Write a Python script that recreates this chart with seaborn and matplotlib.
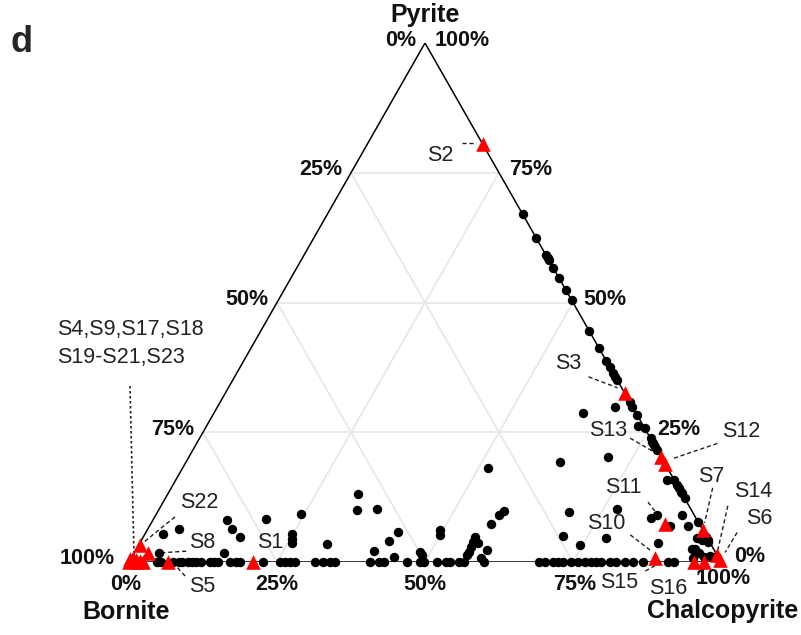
import matplotlib
matplotlib.use("Agg")
import matplotlib.pyplot as plt
import numpy as np
import pandas as pd
import seaborn as sns

# ------------------------------------------------------------------ data (%)
# Black dots. Bornite = 100 - chalcopyrite - pyrite
baseline_cpy = [4.8, 5.4, 7.4, 8.5, 9.0, 9.9, 10.7, 11.3, 12.2, 13.6, 14.4, 15.0,
                17.0, 18.1, 18.7, 22.6, 25.5, 26.3, 27.2, 28.0, 31.4, 32.8, 34.0,
                34.8, 40.7, 42.2, 43.0, 47.0, 49.2, 49.8, 52.1, 53.5, 54.3, 55.7,
                56.6, 60.0, 69.3, 70.2, 71.6, 72.4, 73.3, 74.7, 75.8, 77.0, 78.1,
                78.9, 79.8, 81.2, 82.3, 83.8, 85.2, 86.9, 91.1, 92.0]

interior_cpy = [3.0, 5.3, 12.5, 14.2, 16.4, 19.1, 24.4, 24.8, 25.4, 25.8, 15.2,
                31.7, 32.2, 33.5, 36.8, 40.4, 42.0, 42.6, 44.2, 48.2, 48.9, 49.4,
                49.9, 56.0, 56.1, 56.3, 56.4, 57.1, 56.5, 59.2, 59.0, 51.5, 58.4,
                58.0, 57.5, 63.1, 70.7, 69.5, 70.8, 74.6, 78.3, 77.2, 87.5, 84.0,
                84.6, 87.9, 88.8, 90.9, 93.6, 94.7, 95.7, 95.9, 94.3, 95.4, 96.6,
                97.6, 98.5, 93.8, 95.0, 62.3, 67.1, 4.2, 82.9, 72.9]
interior_py = [5.4, 6.4, 8.1, 6.4, 4.8, 8.2, 9.2, 5.4, 4.4, 3.6, 1.8,
               3.4, 13.1, 10.0, 10.3, 2.1, 4.0, 5.8, 1.0, 2.0, 1.3, 6.2,
               5.2, 4.9, 3.9, 2.9, 2.0, 3.6, 1.3, 2.4, 0.8, 18.2, 9.9,
               9.1, 7.3, 19.3, 20.3, 9.6, 5.0, 3.3, 4.7, 10.3, 3.7, 8.4,
               9.1, 6.9, 9.1, 6.9, 4.6, 4.2, 4.2, 3.9, 2.6, 1.7, 1.0,
               1.2, 1.0, 2.6, 0.7, 28.8, 29.9, 1.7, 15.8, 26.2]

# Points on the chalcopyrite-pyrite join (bornite = 0): pyrite %
join_py = [67.0, 62.4, 59.2, 58.5, 58.1, 56.7, 54.7, 52.4, 50.5, 44.5, 41.2,
           38.7, 37.6, 36.5, 35.7, 35.1, 30.9, 29.9, 28.3, 25.8, 23.8,
           23.2, 22.5, 22.2, 22.9, 21.6, 15.8, 14.8, 14.2, 13.5, 13.2, 12.3,
           7.8, 4.9]

# Studied samples (red triangles)
sample_names = ["S1", "S2", "S3", "S4", "S5", "S6", "S7", "S8", "S9", "S10",
                "S11", "S12", "S13", "S14", "S15", "S16", "S17", "S18", "S19",
                "S20", "S21", "S22", "S23"]
sample_cpy = [20.9, 19.5, 67.4, 0.0, 6.6, 99.7, 93.8, 2.4, 0.6, 88.5,
              86.9, 81.2, 79.8, 98.6, 95.5, 97.1, 1.3, 2.3, 0.2,
              0.9, 1.7, 0.2, 0.0]
sample_py = [0.0, 80.5, 32.6, 0.0, 0.0, 0.3, 6.2, 1.7, 0.3, 0.8,
             7.3, 18.8, 20.2, 1.4, 0.0, 0.0, 0.0, 0.0, 0.8,
             0.4, 0.2, 3.3, 0.5]

axis_ticks = [0, 25, 50, 75, 100]

# ------------------------------------------------------------------ frames
dots = pd.DataFrame({
    "cpy": baseline_cpy + interior_cpy + [100 - p for p in join_py],
    "py": [0.0] * len(baseline_cpy) + interior_py + join_py,
})
samples = pd.DataFrame({"name": sample_names, "cpy": sample_cpy, "py": sample_py})


def to_xy(df):
    df = df.copy()
    df["x"] = df["cpy"] / 100 + df["py"] / 200
    df["y"] = df["py"] / 100
    return df


dots = to_xy(dots)
samples = to_xy(samples)

# ------------------------------------------------------------------ figure
W, H = 801, 635
L, R, BASE, TOP = 129, 721, 562, 43
sns.set_style("white")
plt.rcParams["font.family"] = ["Liberation Sans", "DejaVu Sans"]

fig = plt.figure(figsize=(W / 100, H / 100), dpi=100)
ax = fig.add_axes([L / W, (H - BASE) / H, (R - L) / W, (BASE - TOP) / H])
ax.set_xlim(0, 1)
ax.set_ylim(0, 1)
ax.axis("off")


def off(x, y, dx, dy):
    """shift a data point by pixel offsets (dy positive = down)"""
    return x + dx / (R - L), y - dy / (BASE - TOP)


grid_c = "#e8e8e8"
for t in axis_ticks[1:-1]:
    v = t / 100
    ax.plot([v / 2, 1 - v / 2], [v, v], color=grid_c, lw=1.3, zorder=0)
    ax.plot([v, v + (1 - v) / 2], [0, 1 - v], color=grid_c, lw=1.3, zorder=0)
    ax.plot([1 - v, (1 - v) / 2], [0, 1 - v], color=grid_c, lw=1.3, zorder=0)

ax.plot([0, 1, 0.5, 0], [0, 0, 1, 0], color="black", lw=1.1, zorder=1,
        solid_joinstyle="miter")

tick_font = dict(fontsize=15.5, fontweight="bold", color="#111111")
# Bornite (left edge): 0 % at the apex, 100 % at bottom-left
for t in axis_ticks:
    v = t / 100
    x, y = (1 - v) / 2, 1 - v
    dx, dy = (-14, -4) if t == 100 else (-9, -3)
    ax.text(*off(x, y, dx, dy), f"{t}%", ha="right", va="center", **tick_font)
# Pyrite (right edge): 100 % at apex, 0 % at bottom-right
for t in axis_ticks:
    v = t / 100
    x, y = 1 - v / 2, v
    dx, dy = (13, -5) if t == 0 else (10, -3)
    ax.text(*off(x, y, dx, dy), f"{t}%", ha="left", va="center", **tick_font)
# Chalcopyrite (bottom)
for t in axis_ticks:
    v = t / 100
    dx = {0: -3, 100: 2, 75: 2}.get(t, 0)
    dy = 23 if t != 100 else 17
    ax.text(*off(v, 0, dx, dy), f"{t}%", ha="center", va="center", **tick_font)

title_font = dict(fontsize=18, fontweight="bold", color="#111111")
ax.text(*off(0.5, 1, 0, -28), "Pyrite", ha="center", va="center", **title_font)
ax.text(*off(0, 0, -3, 50), "Bornite", ha="center", va="center", **title_font)
ax.text(*off(1, 0, 2, 49), "Chalcopyrite", ha="center", va="center", **title_font)
fig.text(22 / W, 1 - 43 / H, "d", fontsize=26, fontweight="bold",
         ha="center", va="center")

# ------------------------------------------------------------------ labels
# name: (text dx, dy, leader start dx, dy, leader end dx, dy) in pixels
label_layout = {
    "S1": (17, -19, None),
    "S2": (-42, 11, (-21, -1, -7, -1)),
    "S3": (-56, -29, (-36, -16, -7, -5)),
    "S5": (34, 25, (17, 14, 7, 3)),
    "S6": (39, -42, (17, -28, 5, -8)),
    "S7": (9, -53, (10, -42, 2, -7)),
    "S8": (54, -11, (38, -2, 7, 0)),
    "S10": (-49, -34, (-25, -23, -3, -6)),
    "S11": (-42, -37, (-17, -22, -5, -6)),
    "S12": (76, -33, (52, -21, 8, -6)),
    "S13": (-53, -27, (-31, -19, -7, -5)),
    "S14": (36, -63, (11, -49, 1, -5)),
    "S15": (-75, 21, (-49, 9, -31, -1)),
    "S16": (-36, 26, (-6, 13, 1, 1)),
    "S22": (59, -42, (35, -28, 3, -2)),
}
lab_font = dict(fontsize=15.5, color="#222222")
pos = samples.set_index("name")
for name, (tdx, tdy, lead) in label_layout.items():
    x, y = pos.loc[name, "x"], pos.loc[name, "y"]
    ax.text(*off(x, y, tdx, tdy), name, ha="center", va="center", **lab_font)
    if lead:
        x0, y0 = off(x, y, lead[0], lead[1])
        x1, y1 = off(x, y, lead[2], lead[3])
        ax.plot([x0, x1], [y0, y1], color="#222222", lw=1.0,
                linestyle=(0, (3, 2)), zorder=1, clip_on=False)

# grouped label for bornite-corner samples
gx, gy = pos.loc["S4", "x"], pos.loc["S4", "y"]
ax.text(*off(gx, gy, -72, -232), "S4,S9,S17,S18", ha="left", va="center", **lab_font)
ax.text(*off(gx, gy, -72, -205), "S19-S21,S23", ha="left", va="center", **lab_font)
x0, y0 = off(gx, gy, 1, -176)
x1, y1 = off(gx, gy, 5, -6)
ax.plot([x0, x1], [y0, y1], color="#222222", lw=1.2, linestyle=(0, (1.5, 1.5)),
        zorder=1, clip_on=False)

# ------------------------------------------------------------------ points
sns.scatterplot(data=dots, x="x", y="y", ax=ax, color="black", s=46,
                linewidth=0, zorder=3, clip_on=False, legend=False)
sns.scatterplot(data=samples, x="x", y="y", ax=ax, color="#ff0000", marker="^",
                s=110, linewidth=0, zorder=4, clip_on=False, legend=False)

fig.savefig("out.png", dpi=100)
